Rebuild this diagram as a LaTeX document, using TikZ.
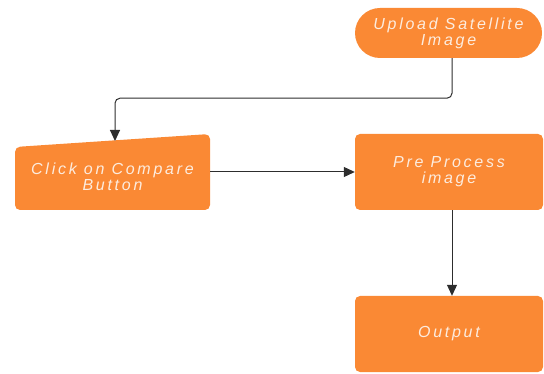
\documentclass[tikz,border=0pt]{standalone}
\usepackage{fontspec}
\setmainfont{Liberation Sans}
\newfontfamily\boxfont[LetterSpace=17]{Liberation Sans}
\usetikzlibrary{arrows.meta}
\definecolor{boxorange}{RGB}{250,137,52}
\definecolor{boxtext}{RGB}{253,236,222}
\definecolor{linegray}{RGB}{45,45,45}
\begin{document}
\begin{tikzpicture}[x=1pt,y=-1pt,
  box/.style={fill=boxorange, rounded corners=5pt, minimum width=188pt, minimum height=76pt,
    inner sep=0pt, text=boxtext, align=center, font=\boxfont\itshape\fontsize{16}{16}\selectfont},
  conn/.style={draw=linegray, line width=1pt, -{Triangle[width=10pt,length=11pt]}}]
\useasboundingbox (0,0) rectangle (544,374);
\node[box, rounded corners=25pt, minimum width=187pt, minimum height=50pt] (upload) at (448.5,33) {Upload Satellite\\Image};
\fill[boxorange, rounded corners=5pt] (15,147) -- (210,134) -- (210,210) -- (15,210) -- cycle;
\node[box, fill=none, minimum width=195pt, minimum height=66pt] (click) at (112.5,177) {Click on Compare\\Button};
\node[box] (pre) at (449,172) {Pre Process\\image};
\node[box] (out) at (449,334) {Output};
\coordinate (clicktop) at (115,141);
\draw[conn, rounded corners=5pt] ([xshift=3.5pt]upload.south) -- ++(0,40) -| (clicktop);
\draw[conn] (click.east |- pre.west) -- (pre.west);
\draw[conn] ([xshift=3pt]pre.south) -- ([xshift=3pt]out.north);
\end{tikzpicture}
\end{document}
